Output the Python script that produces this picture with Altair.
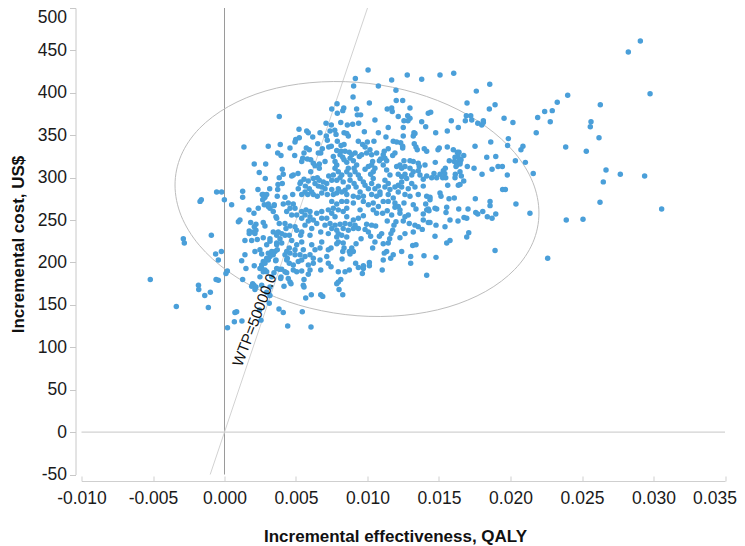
import altair as alt
import pandas as pd

x_ticks = [-0.010, -0.005, 0.0, 0.005, 0.010, 0.015, 0.020, 0.025, 0.030, 0.035]
y_ticks = [-50, 0, 50, 100, 150, 200, 250, 300, 350, 400, 450, 500]
label_text = "WTP=50000.0"
label_pos = (0.0021, 132)

wtp_line = [(-0.001, -50), (0.010, 500)]
zero_cost = [(-0.010, 0), (0.035, 0)]
zero_effect = [(0.0, -50), (0.0, 500)]

ellipse = [(.02199,258.3),(.02156,223.3),(.02029,191.7),(.01827,165.9),(.01563,147.4),(.01256,137.7),(.00927,137.2),(.00597,146.2),(.0029,163.9),(.00027,189.2),(-.00176,220.2),(-.00303,255.1),(-.00346,291.3),(-.00303,326.3),(-.00176,357.9),(.00027,383.8),(.0029,402.3),(.00597,411.9),(.00927,412.4),(.01256,403.5),(.01563,385.8),(.01827,360.4),(.02029,329.4),(.02156,294.5)]

points_far = [(.02908,461),(.02824,448),(.02976,399),(.024,397),(.02327,389),(.02628,386),(.02239,378),(.02292,379),(.0219,371),(.02278,366),(.02563,366),(.02558,360),(.0218,353),(.02619,347),(.02386,336),(.0253,331),(.02159,305),(.02668,309),(.02768,304),(.02938,302),(.02649,295),(.02626,271),(.03057,263),(.0239,250),(.02507,251),(.02136,258),(.0226,205)]

points_upper_right = [(.01696,388),(.01892,386),(.01852,381),(.01442,377),(.01691,373),(.01722,373),(.01955,370),(.01684,367),(.01729,368),(.01586,367),(.02017,365),(.0181,367),(.01771,364),(.01799,362),(.0181,365),(.01635,359),(.01558,355),(.01477,353),(.01985,346),(.01862,342),(.01752,337),(.0198,338),(.02087,337),(.02073,333),(.01558,336),(.01502,335),(.01493,333),(.016,333),(.0164,330),(.01628,330),(.01673,326),(.01633,326),(.01612,324),(.01642,322),(.01834,324),(.01897,325),(.01572,320),(.01607,319),(.01628,318),(.01647,318),(.01654,321),(.02034,320),(.02104,318),(.01474,318),(.01624,315),(.01647,316),(.01698,313),(.01745,311),(.01619,313),(.01913,313),(.01943,313),(.01871,310),(.01544,311),(.0153,308),(.0154,305),(.01507,304),(.01647,307),(.01656,302),(.01614,304),(.01612,300),(.01465,305),(.01449,300),(.01484,300),(.01526,300),(.01547,300),(.01801,304),(.01978,303),(.01673,296),(.01635,291),(.01647,292),(.01561,291),(.01945,286),(.01964,286),(.01507,282),(.01514,278),(.0157,275),(.01607,276),(.01754,275),(.01437,277)]

points_top = [(.01004,427),(.01278,421),(.01507,421),(.01603,423),(.00915,417),(.01169,415),(.01379,416),(.00903,408),(.01076,408),(.01855,410),(.01199,403),(.01761,402),(.00899,395),(.01201,391),(.01246,391),(.00787,387),(.01013,388),(.00834,382),(.00924,381),(.01138,381),(.01169,382),(.01297,382)]

points_centre_upper = [(.0075,381),(.00827,379),(.00789,376),(.01173,378),(.00929,374),(.00952,374),(.01215,372),(.01281,373),(.01297,370),(.01425,376),(.01052,368),(.01255,367),(.01283,367),(.01379,366),(.00813,365),(.00859,362),(.00896,363),(.00938,364),(.00747,362),(.0125,359),(.01145,359),(.01407,360),(.00771,356),(.00978,354),(.01076,353),(.00836,353),(.00855,352),(.00866,349),(.01325,353),(.0078,351),(.0125,349),(.01129,348),(.0132,349),(.01332,352),(.00789,343),(.00936,343),(.00999,342),(.01045,343),(.0118,343),(.01204,342),(.01232,341),(.01246,337),(.01246,335),(.00966,339),(.00983,336),(.00836,339),(.00815,338),(.01327,340),(.01339,336),(.01348,333),(.00747,337),(.01397,334),(.01414,331),(.01145,334),(.01117,331),(.00785,332),(.00815,331),(.00843,331),(.00873,330),(.01017,333),(.00994,329),(.00913,329),(.01064,329),(.01029,327),(.00959,327),(.00943,325),(.00761,325),(.00808,327),(.00827,324),(.00836,321),(.00855,318),(.0089,327),(.00878,323),(.00901,320),(.0111,327),(.01092,322),(.01083,320),(.01122,323),(.01134,320),(.01176,326),(.01192,329),(.00773,319),(.00785,315),(.00773,311),(.00796,307),(.0082,303),(.01036,319),(.01029,315),(.01006,313),(.00983,310),(.01255,320),(.01297,320),(.0132,319),(.01355,317),(.01362,313),(.01402,315),(.01204,313),(.01227,315),(.01239,311),(.01262,313),(.00924,315),(.00906,311),(.00913,307),(.00936,303),(.00866,311),(.00855,307),(.00878,303),(.01052,311),(.0104,307),(.01022,304),(.0111,315),(.01134,309),(.01157,303),(.01297,311),(.0132,307),(.01309,303),(.01355,308),(.01367,303),(.01414,302),(.0139,298),(.01215,304),(.01239,301),(.01262,304),(.01274,299),(.01239,295),(.00761,303),(.0075,297),(.00785,297),(.00808,300),(.0083,295),(.00948,299),(.00971,295),(.00983,291),(.01006,287),(.0104,299),(.01029,293),(.01052,287),(.01076,290),(.00878,297),(.00906,293),(.0092,289),(.00866,289),(.01122,297),(.01145,293),(.01122,289),(.01157,286),(.01087,283),(.01215,291),(.01192,289),(.01239,289),(.01215,283),(.01309,293),(.01332,289),(.01285,287),(.0139,290),(.01355,280),(.00796,287),(.0082,283),(.00785,282),(.0075,286),(.00761,280),(.00843,285),(.00855,280),(.00948,283),(.00971,278),(.00936,277),(.00901,278),(.01029,280),(.01064,278),(.01087,280),(.01145,280),(.0118,276),(.01262,280),(.01297,278),(.01414,278)]

points_centre_lower = [(.0075,272),(.00785,269),(.0082,272),(.00855,272),(.00901,270),(.00971,272),(.01006,268),(.0104,270),(.01076,266),(.0111,272),(.01145,272),(.01192,270),(.01215,266),(.01255,270),(.0132,268),(.01339,263),(.01414,262),(.0139,257),(.00761,264),(.00796,262),(.0083,260),(.00855,264),(.00948,262),(.00971,255),(.00936,252),(.0104,262),(.01064,258),(.01106,258),(.01138,261),(.01169,256),(.01192,265),(.01227,258),(.01227,262),(.01285,256),(.01262,254),(.0125,249),(.0075,258),(.00773,254),(.00855,254),(.00901,250),(.00878,245),(.00913,244),(.00901,240),(.00773,244),(.00808,245),(.00843,246),(.00994,245),(.01029,244),(.01057,243),(.01138,249),(.01199,248),(.01292,246),(.01332,244),(.01355,242),(.01383,239),(.0075,240),(.00785,238),(.0083,240),(.00866,238),(.00936,240),(.00983,239),(.01185,244),(.01176,238),(.01164,234),(.01006,236),(.01022,231),(.01052,224),(.01099,234),(.01083,231),(.0132,236),(.01262,234),(.01227,229),(.00796,234),(.0082,232),(.00855,230),(.00785,230),(.00955,228),(.01155,228),(.01145,223),(.0111,222),(.00796,224),(.0083,223),(.00785,222),(.0092,222),(.00745,217),(.01036,217),(.01316,220),(.01339,221),(.00836,217),(.00827,213),(.0089,217),(.00873,213),(.00901,213),(.00878,210),(.01239,213),(.01134,213),(.01117,211),(.0118,209),(.01162,205),(.01395,208),(.01302,207),(.00822,204),(.0111,203),(.00917,199),(.00936,194),(.01013,200),(.01013,196),(.00971,196),(.00971,193),(.01302,199),(.00745,195),(.01103,191),(.00873,191),(.00843,189),(.00796,189),(.00964,187),(.01414,185),(.00813,180),(.00796,177),(.00785,175),(.00801,168),(.00827,162)]

points_right_lower = [(.01857,272),(.01857,267),(.01437,274),(.01407,269),(.01425,263),(.0143,261),(.01472,264),(.01484,263),(.01554,265),(.01549,259),(.01638,263),(.01703,263),(.01757,259),(.01771,257),(.01806,260),(.01838,254),(.01871,252),(.01897,257),(.02038,269),(.01577,250),(.01633,249),(.01675,253),(.01694,252),(.01479,244),(.01542,242),(.0139,250),(.01425,247),(.01437,247),(.01472,231),(.01708,235),(.01694,230),(.01577,226),(.01554,223),(.01892,214),(.01479,206)]

points_left_upper = [(.00383,372),(.0071,364),(.00521,357),(.00575,355),(.00586,353),(.00668,353),(.00738,355),(.00712,349),(.00523,347),(.00498,345),(.00493,342),(.00617,348),(.00719,344),(.00136,336),(.00306,337),(.0039,339),(.00458,335),(.00652,340),(.00572,335),(.00593,333),(.00684,334),(.00673,329),(.00656,329),(.00729,336),(.00372,329),(.00395,326),(.00491,326),(.00556,329),(.00547,323),(.0054,319),(.00579,322),(.00603,321),(.00621,317),(.00633,314),(.00663,316),(.00663,311),(.00703,319),(.00208,316),(.00288,316),(.00243,306),(.00404,310),(.00411,304),(.00383,300),(.00404,293),(.00374,292),(.00285,299),(.00603,307),(.00514,305),(.00481,303),(.0047,302),(.00729,302),(.00556,298),(.00533,295),(.00528,293),(.00586,296),(.00621,299),(.00649,300),(.00663,297),(.00691,295),(.00715,293),(.00633,293),(.00656,290),(.0068,289),(.00703,287),(.00565,290),(.00593,287),(.0061,283),(.00563,283),(.00516,287),(.0054,280),(.00582,280),(.00621,280),(.00649,278),(.0068,282),(.00719,280),(.00127,284),(.00127,277),(.00234,286),(.00316,287),(.00271,280),(.00283,277),(.00264,280),(.00372,286),(.00369,278),(.00423,277),(.00477,280)]

points_left_lower = [(.0005,268),(.00278,268),(.00306,269),(.00348,268),(.00171,262),(.00206,258),(.00236,264),(.00318,264),(.00341,260),(.0036,254),(.00411,269),(.00446,270),(.00481,269),(.00493,264),(.00458,264),(.00435,260),(.0047,256),(.00505,256),(.0054,260),(.0057,262),(.00598,260),(.00563,256),(.00598,254),(.00621,250),(.00586,249),(.0054,252),(.00645,258),(.0068,260),(.0068,252),(.00715,252),(.00726,262),(.00738,246),(.00108,250),(.00097,248),(.00183,247),(.0022,245),(.00208,242),(.0022,238),(.00173,237),(.00201,236),(.00271,247),(.00283,243),(.00383,246),(.00423,246),(.00458,243),(.00493,242),(.00505,238),(.0054,236),(.00533,232),(.00563,244),(.0061,240),(.00598,232),(.00645,246),(.00703,244),(.00673,236),(.00726,234),(.00341,236),(.00376,236),(.004,234),(.00423,232),(.0047,226),(.00453,232),(.00388,228),(.00365,232),(.00143,226),(.0019,226),(.00229,227),(.00271,229),(.00318,228),(.00295,221),(.004,223),(.00365,223),(.0054,224),(.00505,221),(.00551,215),(.00493,215),(.0061,221),(.00668,217),(.00633,215),(.00726,215),(.0068,224),(.00453,217),(.00435,213),(.00458,211),(.00493,209),(.00528,209),(.00213,213),(.00248,215),(.0026,210),(.00143,209),(.0012,202),(.00306,211),(.0033,213),(.00353,213),(.00341,209),(.00318,207),(.00295,205),(.00271,201),(.0026,197),(.0036,203),(.00423,209),(.00435,203),(.00453,199),(.00481,197),(.00516,201),(.0054,203),(.00563,207),(.00598,209),(.00621,205),(.00586,197),(.00621,199),(.00668,203),(.00715,207),(.00726,199),(.00481,191),(.00505,189),(.0054,190),(.00598,191),(.00586,186),(.00673,191),(.0015,193),(.00208,196),(.00283,191),(.00295,189),(.00127,180),(.00346,188),(.0033,183),(.00383,192),(.004,192),(.00423,189),(.00435,188),(.00446,181),(.00458,177),(.00465,175),(.00395,183),(.00393,181),(.00556,180),(.00416,172),(.00197,175),(.00206,173),(.0019,172),(.0022,171),(.00213,168),(.00318,161),(.00607,162),(.00673,162),(.00687,160),(.00318,171)]

points_fringe = [(-.00055,283),(-.0002,283),(-.00001,274),(-.00162,274),(-.00171,272),(-.00092,232),(-.00288,228),(-.00281,223),(-.00022,213),(-.00062,210),(-.00043,203),(.0002,190),(.0001,187),(-.00059,180),(-.00043,179),(-.00519,180),(-.00182,173),(-.0018,168),(-.00099,165),(-.00138,161),(-.00337,148),(-.00113,147),(.0026,173),(.00295,165),(.00313,152),(.00381,145),(.00411,141),(.00544,142),(.00568,158),(.00551,173),(.00556,171),(.00085,142),(.00073,141),(.00122,131),(.00069,130),(.00021,123),(.00255,132),(.00245,144),(.00442,125),(.00605,124),(.00248,183),(.00248,193),(.00271,189),(.00365,193),(.00295,280),(.00276,276),(.00267,274),(.00346,267),(.00306,266),(.00365,252),(.0043,240),(.00173,234),(.00213,234),(.00318,225),(.00365,221),(.00369,215),(.00358,202),(.00306,203),(.00283,199),(.0026,193),(.00439,205)]

all_points = (points_far + points_upper_right + points_top + points_centre_upper +
              points_centre_lower + points_right_lower + points_left_upper +
              points_left_lower + points_fringe)

FONT = "Liberation Sans"
X_DOMAIN = [-0.010, 0.035]
Y_DOMAIN = [-50, 500]
PLOT_H = 466.5
PLOT_W = 643.5
HYPHEN = "replace(datum.label, '\u2212', '-')"


def frame(pairs):
    d = pd.DataFrame(pairs, columns=["x", "y"])
    d["i"] = range(len(d))
    return d


x_scale = alt.Scale(domain=X_DOMAIN, nice=False, zero=False)
y_scale = alt.Scale(domain=Y_DOMAIN, nice=False, zero=False)
x_plain = alt.X("x:Q", scale=x_scale, axis=None)
y_plain = alt.Y("y:Q", scale=y_scale, axis=None)

# bottom axis carries labels and title, top-oriented one pushed down draws the inward ticks
x_labels = alt.Axis(
    orient="bottom", values=x_ticks, format=".3f", labelExpr=HYPHEN, offset=6.5, domain=False,
    ticks=False, grid=False, labelFont=FONT, labelFontSize=17.5, labelColor="#1a1a1a",
    labelPadding=8, labelFlush=False, labelOverlap=False,
    labelOffset={"condition": {"test": "datum.value > 0.034", "value": -10.5}, "value": 0},
    title="Incremental effectiveness, QALY", titleFont=FONT, titleFontSize=17,
    titleFontWeight="bold", titleColor="#111111", titleX=313.5, titleY=55,
    titleAlign="center", titleBaseline="middle",
)
x_ticks_axis = alt.Axis(
    orient="top", values=x_ticks, offset=-(PLOT_H + 6.5), labels=False, title=None, grid=False,
    domain=True, domainColor="#cfcfcf", domainWidth=1, ticks=True, tickColor="#cfcfcf",
    tickSize=5, tickWidth=1,
)
y_axis = alt.Axis(
    orient="left", values=y_ticks, labelExpr=HYPHEN, offset=6, grid=False, domainColor="#c8c8c8",
    domainWidth=1, tickColor="#c8c8c8", tickSize=6, tickWidth=1, labelFont=FONT, labelFontSize=17.5,
    labelColor="#1a1a1a", labelPadding=3, labelFlush=False, labelOverlap=False,
    labelBaseline={"condition": {"test": "datum.value == 500", "value": "top"}, "value": "middle"},
    title="Incremental cost, US$", titleFont=FONT, titleFontSize=17, titleFontWeight="bold",
    titleColor="#111111", titleX=-57, titleY=236, titleAlign="center", titleBaseline="middle",
    titleAngle=270,
)

axes_a = alt.Chart(frame(zero_cost)).mark_line(stroke="#d2d2d2", strokeWidth=1.4).encode(
    x=alt.X("x:Q", scale=x_scale, axis=x_labels),
    y=alt.Y("y:Q", scale=y_scale, axis=y_axis),
)
axes_b = alt.Chart(frame(zero_cost)).mark_line(strokeOpacity=0).encode(
    x=alt.X("x:Q", scale=x_scale, axis=x_ticks_axis),
    y=y_plain,
)
vline = alt.Chart(frame(zero_effect)).mark_line(stroke="#9a9a9a", strokeWidth=1).encode(x=x_plain, y=y_plain)
wtp = alt.Chart(frame(wtp_line)).mark_line(stroke="#d2d2d2", strokeWidth=1).encode(x=x_plain, y=y_plain)
ring = alt.Chart(frame(ellipse)).mark_line(
    stroke="#bdbdbd", strokeWidth=1, interpolate="cardinal-closed"
).encode(x=x_plain, y=y_plain, order="i:Q")
dots = alt.Chart(frame(all_points)).mark_point(
    filled=True, size=30, color="#4a9fd9", opacity=1
).encode(x=x_plain, y=y_plain)
note = alt.Chart(pd.DataFrame([{"x": label_pos[0], "y": label_pos[1], "t": label_text}])).mark_text(
    font=FONT, fontSize=15.2, color="#111111", angle=291, align="center", baseline="middle"
).encode(x=x_plain, y=y_plain, text="t:N")

chart = (
    alt.layer(axes_a, axes_b, vline, wtp, ring, dots, note)
    .resolve_axis(x="independent", y="independent")
    .properties(
        width=PLOT_W, height=PLOT_H,
        autosize=alt.AutoSizeParams(type="none"),
        padding={"left": 73.5, "top": 0, "right": 12, "bottom": 71},
        background="white",
    )
    .configure_view(stroke=None)
)

chart.save("out.html", embed_options={"renderer": "svg", "actions": False})
